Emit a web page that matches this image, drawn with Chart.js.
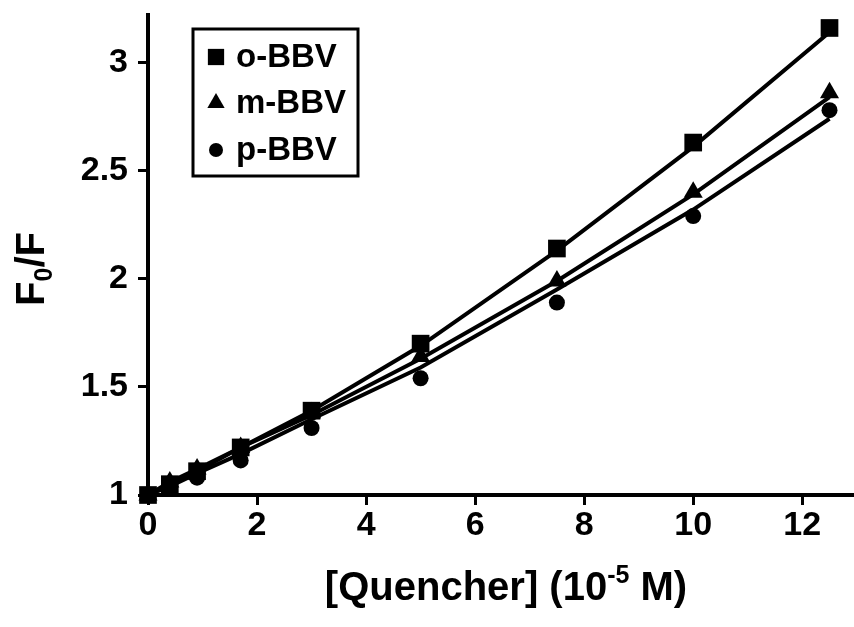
<!DOCTYPE html>
<html>
<head>
<meta charset="utf-8">
<script src="https://cdn.jsdelivr.net/npm/chart.js@4.4.1/dist/chart.umd.min.js"></script>
<style>
  html, body { margin: 0; padding: 0; background: #fff; }
  #wrap { width: 854px; height: 627px; overflow: hidden; }
</style>
</head>
<body>
<div id="wrap"><canvas id="chart" width="866" height="627"></canvas></div>
<script>
// quencher concentration (10^-5 M)
const quencher = [0, 0.4, 0.9, 1.7, 3, 5, 7.5, 10, 12.5];

// measured F0/F
const oPoints = [1, 1.05, 1.11, 1.22, 1.39, 1.70, 2.14, 2.63, 3.16];
const mPoints = [1, 1.06, 1.12, 1.22, 1.38, 1.64, 1.99, 2.40, 2.86];
const pPoints = [1, 1.04, 1.08, 1.16, 1.31, 1.54, 1.89, 2.29, 2.78];

// fitted curves, read at the same concentrations
const oFit = [1, 1.05, 1.11, 1.22, 1.39, 1.69, 2.13, 2.61, 3.14];
const mFit = [1, 1.06, 1.12, 1.22, 1.37, 1.63, 1.99, 2.39, 2.84];
const pFit = [1, 1.04, 1.10, 1.19, 1.35, 1.59, 1.95, 2.32, 2.74];

const seriesNames = ["o-BBV", "m-BBV", "p-BBV"];
const markerStyles = ["rect", "triangle", "circle"];
const markerSizes = [12.5, 11, 8];

const xTicks = [0, 2, 4, 6, 8, 10, 12];
const yTicks = [1, 1.5, 2, 2.5, 3];

const FONT = "'Liberation Sans', Arial, sans-serif";

const toXY = ys => quencher.map((x, i) => ({ x: x, y: ys[i] }));

const pointSets = [oPoints, mPoints, pPoints].map((ys, i) => ({
    label: seriesNames[i],
    data: toXY(ys),
    showLine: false,
    pointStyle: markerStyles[i],
    pointRadius: markerSizes[i],
    pointBackgroundColor: "#000",
    pointBorderColor: "#000",
    pointBorderWidth: 0,
    clip: false,
    order: 1
}));

const fitSets = [oFit, mFit, pFit].map(ys => ({
    label: "fit",
    data: toXY(ys),
    showLine: true,
    borderColor: "#000",
    borderWidth: 4,
    pointRadius: 0,
    tension: 0,
    clip: false,
    order: 2
}));

// legend box drawn inside the plot
const legendBox = {
    id: "legendBox",
    afterDraw(chart) {
        const ctx = chart.ctx;
        ctx.save();
        ctx.strokeStyle = "#000";
        ctx.lineWidth = 3;
        ctx.strokeRect(193, 29, 165, 147);
        ctx.fillStyle = "#000";
        ctx.textBaseline = "middle";
        ctx.font = "bold 33px " + FONT;
        const rowsY = [57, 103, 150];
        seriesNames.forEach((name, i) => {
            Chart.helpers.drawPoint(ctx, {
                pointStyle: markerStyles[i],
                radius: markerSizes[i] - 1,
                rotation: 0,
                borderWidth: 0
            }, 216, rowsY[i]);
            ctx.fillText(name, 236, rowsY[i] + 1);
        });
        ctx.restore();
    }
};

// axis titles with sub/superscripts
const axisTitles = {
    id: "axisTitles",
    afterDraw(chart) {
        const ctx = chart.ctx;
        ctx.save();
        ctx.fillStyle = "#000";
        ctx.textBaseline = "alphabetic";

        // y title: F0/F
        const big = "bold 40px " + FONT;
        const small = "bold 25px " + FONT;
        ctx.translate(44, 269);
        ctx.rotate(-Math.PI / 2);
        ctx.font = big;
        const wF = ctx.measureText("F").width;
        const wRest = ctx.measureText("/F").width;
        ctx.font = small;
        const w0 = ctx.measureText("0").width;
        let x = -(wF + w0 + wRest) / 2;
        ctx.font = big;
        ctx.fillText("F", x, 0);
        x += wF;
        ctx.font = small;
        ctx.fillText("0", x, 8);
        x += w0;
        ctx.font = big;
        ctx.fillText("/F", x, 0);
        ctx.setTransform(1, 0, 0, 1, 0, 0);

        // x title: [Quencher] (10-5 M)
        const p1 = "[Quencher] (10";
        const sup = "-5";
        const p2 = " M)";
        ctx.font = big;
        const w1 = ctx.measureText(p1).width;
        const w2 = ctx.measureText(p2).width;
        ctx.font = small;
        const ws = ctx.measureText(sup).width;
        let xx = 506 - (w1 + ws + w2) / 2;
        const base = 600;
        ctx.font = big;
        ctx.fillText(p1, xx, base);
        xx += w1;
        ctx.font = small;
        ctx.fillText(sup, xx, base - 17);
        xx += ws;
        ctx.font = big;
        ctx.fillText(p2, xx, base);
        ctx.restore();
    }
};

const tickFont = { family: FONT, size: 34, weight: "bold" };

new Chart(document.getElementById("chart"), {
    type: "scatter",
    data: { datasets: fitSets.concat(pointSets) },
    options: {
        responsive: false,
        animation: false,
        devicePixelRatio: 1,
        layout: { padding: { top: 15, right: 0, left: 0, bottom: 0 } },
        plugins: {
            legend: { display: false },
            tooltip: { enabled: false }
        },
        scales: {
            x: {
                type: "linear",
                min: 0,
                max: 12.94,
                afterBuildTicks: s => { s.ticks = xTicks.map(v => ({ value: v })); },
                afterFit: s => { s.height = 132; },
                ticks: { font: tickFont, color: "#000", padding: 0, maxRotation: 0, autoSkip: false },
                grid: { drawOnChartArea: false, tickLength: 10, tickWidth: 3, color: "#000" },
                border: { color: "#000", width: 4 }
            },
            y: {
                type: "linear",
                min: 1,
                max: 3.22,
                afterBuildTicks: s => { s.ticks = yTicks.map(v => ({ value: v })); },
                afterFit: s => { s.width = 148; s.paddingTop = 0; s.paddingBottom = 0; },
                ticks: {
                    font: tickFont, color: "#000", padding: 10, autoSkip: false,
                    callback: v => String(v)
                },
                grid: { drawOnChartArea: false, tickLength: 10, tickWidth: 3, color: "#000" },
                border: { color: "#000", width: 4 }
            }
        }
    },
    plugins: [legendBox, axisTitles]
});
</script>
</body>
</html>
